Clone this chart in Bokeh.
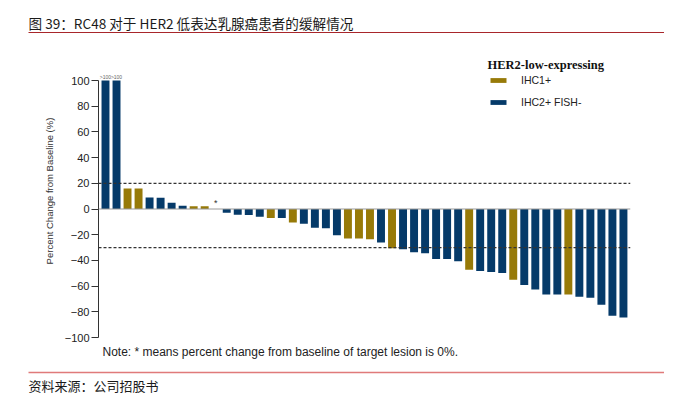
from bokeh.plotting import figure
from bokeh.models import (Range1d, FixedTicker, Legend, LegendItem, Label, Span,
                          ColumnDataSource)
from bokeh.layouts import column
from bokeh.embed import file_html
from bokeh.resources import INLINE
from bokeh.core.properties import value

# ---------------- data ----------------
title_text = "图 39：RC48 对于 HER2 低表达乳腺癌患者的缓解情况"
source_text = "资料来源：公司招股书"
note_text = "Note: * means percent change from baseline of target lesion is 0%."
y_label = "Percent Change from Baseline (%)"
legend_title = "HER2-low-expressing"
group_names = ["IHC1+", "IHC2+ FISH-"]

# best percent change of each patient (bars capped at 100 where change > 100%)
values = [100, 100, 16, 16, 9, 8.8, 4.8, 2.6, 2.1, 2.1, 0,
          -3, -4.4, -4.6, -6, -7, -7, -10.5, -11.5, -14.5, -15, -20.5,
          -23, -23, -23.5, -26, -30.5, -31.3, -33.6, -34.4, -38.9, -38.9,
          -40.7, -47.2, -48.3, -49, -49.8, -55, -59.2, -62.6, -66.5, -66.5,
          -66.5, -68.3, -69.1, -74.6, -83, -84.5]
# G = IHC1+, B = IHC2+ FISH-, * = 0% change (no bar)
groups = ["B", "B", "G", "G", "B", "B", "B", "B", "G", "G", "*",
          "B", "B", "B", "B", "G", "B", "G", "B", "B", "B", "B",
          "G", "G", "G", "B", "G", "B", "B", "B", "B", "B",
          "B", "G", "B", "B", "B", "G", "B", "B", "B", "B",
          "G", "B", "B", "B", "B", "B"]
capped_label = ">100"
y_ticks = [-100, -80, -60, -40, -20, 0, 20, 40, 60, 80, 100]
thresholds = [20, -30]

colors = {"G": "#977a08", "B": "#053a69"}

# ---------------- layout ----------------
W = 664
TOP_H, MID_H, BOT_H = 40, 304, 50
BL, BR, BT, BB = 98, 34, 4, 7            # chart frame borders (px)
X0, X1 = 0.365, 48.64
px_per_unit = 257 / 200.0
Y0 = -100
Y1 = Y0 + (MID_H - BT - BB) / px_per_unit


def dx(c):
    """chart canvas x pixel -> data x"""
    return X0 + (c - BL) * (X1 - X0) / (W - BL - BR)


def dy(c):
    """chart canvas y pixel (from top of chart figure) -> data y"""
    return Y0 + ((MID_H - BB) - c) / px_per_unit


def strip(h):
    f = figure(width=W, height=h, x_range=Range1d(0, W), y_range=Range1d(h, 0),
               x_axis_type=None, y_axis_type=None, output_backend="svg",
               toolbar_location=None, min_border=0, frame_align=False)
    f.outline_line_color = None
    return f


# ---------------- title strip ----------------
top = strip(TOP_H)
top.add_layout(Label(x=28, y=22, text=title_text, text_font="Noto Sans CJK SC",
                     text_font_size="13.6px", text_baseline="middle", text_color="#1a1a1a"))
top.segment(x0=[28], y0=[32], x1=[664], y1=[32], line_color="#a8262b", line_width=1)

# ---------------- chart ----------------
positions = list(range(1, len(values) + 1))
p = figure(width=W, height=MID_H, x_range=Range1d(X0, X1), y_range=Range1d(Y0, Y1),
           x_axis_type=None, output_backend="svg", toolbar_location=None,
           min_border_left=BL, min_border_right=BR, min_border_top=BT,
           min_border_bottom=BB, frame_align=False)
p.outline_line_color = None
p.ygrid.visible = False

renderers = {}
for key in ["G", "B"]:
    xs = [x for x, g in zip(positions, groups) if g == key]
    ts = [v for v, g in zip(values, groups) if g == key]
    src = ColumnDataSource(dict(x=xs, top=ts))
    renderers[key] = p.vbar(x="x", top="top", bottom=0, width=0.72, source=src,
                            fill_color=colors[key], line_color=None)

p.add_layout(Span(location=0, dimension="width", line_color="#9a9a9a", line_width=1))
for t in thresholds:
    p.add_layout(Span(location=t, dimension="width", line_color="#333333",
                      line_width=1.2, line_dash="3 2"))

cxs = [x for x, v in zip(positions, values) if v >= 100]
cys = [v for v in values if v >= 100]
p.text(x=cxs, y=cys, text=[capped_label] * len(cxs), text_font=value("Liberation Sans"),
       text_font_size="5px", text_align="center", text_baseline="bottom",
       text_color="#666666", y_offset=-1)
axs = [x for x, g in zip(positions, groups) if g == "*"]
ays = [v for v, g in zip(values, groups) if g == "*"]
p.text(x=axs, y=ays, text=["*"] * len(axs), text_font=value("Liberation Sans"),
       text_font_size="9px", text_align="center", text_baseline="bottom",
       text_color="#333333", y_offset=-1)

yax = p.yaxis[0]
yax.ticker = FixedTicker(ticks=y_ticks)
yax.bounds = (-100, 100)
yax.axis_line_color = "#333333"
yax.major_tick_line_color = "#333333"
yax.major_tick_out = 7
yax.major_tick_in = 0
yax.minor_tick_out = 0
yax.minor_tick_in = 0
yax.major_label_standoff = 2
yax.major_label_text_font = "Liberation Sans"
yax.major_label_text_font_size = "11px"
yax.major_label_text_color = "#222222"
yax.axis_label = y_label
yax.axis_label_text_font = "Liberation Sans"
yax.axis_label_text_font_size = "9.5px"
yax.axis_label_text_font_style = "normal"
yax.axis_label_text_color = "#333333"
yax.axis_label_standoff = 7

legend = Legend(items=[LegendItem(label=group_names[0], renderers=[renderers["G"]]),
                       LegendItem(label=group_names[1], renderers=[renderers["B"]])],
                location=(390, 229))
legend.padding = 0
legend.margin = 0
legend.border_line_color = None
legend.background_fill_alpha = 0
legend.glyph_width = 20
legend.glyph_height = 6
legend.label_height = 12
legend.label_standoff = 13
legend.spacing = 10
legend.label_text_font = "Liberation Sans"
legend.label_text_font_size = "10.5px"
legend.label_text_color = "#222222"
p.add_layout(legend, "center")

p.add_layout(Label(x=dx(487), y=dy(24), text=legend_title, text_font="Liberation Serif",
                   text_font_style="bold", text_font_size="12.5px",
                   text_baseline="middle", text_color="#111111"))

# ---------------- footer ----------------
bot = strip(BOT_H)
bot.add_layout(Label(x=102, y=7, text=note_text, text_font="Liberation Sans",
                     text_font_size="12px", text_baseline="middle", text_color="#222222"))
bot.segment(x0=[28], y0=[28], x1=[664], y1=[28], line_color="#e07a7a", line_width=1.5)
bot.add_layout(Label(x=28, y=41, text=source_text, text_font="Noto Sans CJK SC",
                     text_font_size="13px", text_baseline="middle", text_color="#1a1a1a"))

layout = column(top, p, bot, spacing=0)
open("out.html", "w").write(file_html(layout, INLINE))
